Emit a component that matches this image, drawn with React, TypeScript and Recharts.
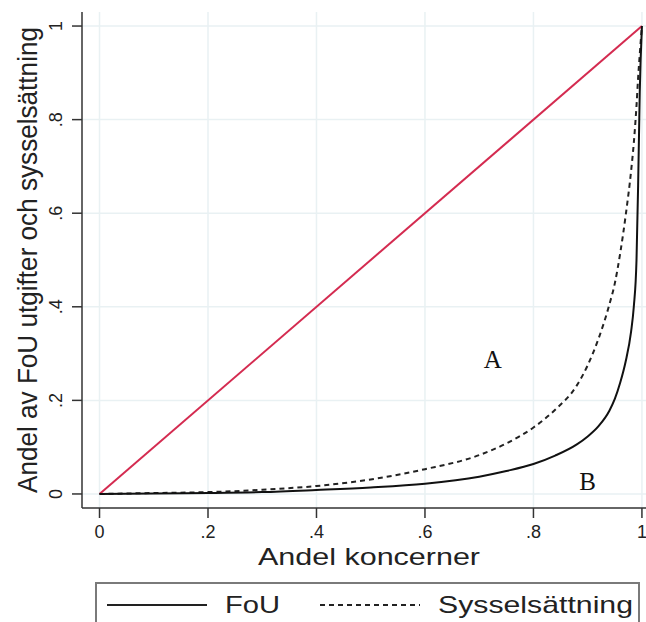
import React from 'react';
import { LineChart, Line, XAxis, YAxis, CartesianGrid, Legend, ReferenceDot } from 'recharts';

// andel koncerner (x) and cumulative shares
const shareX = [0, 0.1, 0.2, 0.3, 0.4, 0.5, 0.6, 0.7, 0.75, 0.8, 0.84, 0.88, 0.9, 0.92, 0.94, 0.95, 0.96, 0.97, 0.98, 0.985, 0.99, 0.993, 0.996, 1];
const fou = [0, 0.001, 0.002, 0.004, 0.0086, 0.014, 0.022, 0.037, 0.049, 0.064, 0.082, 0.106, 0.123, 0.145, 0.178, 0.203, 0.238, 0.283, 0.347, 0.4, 0.5, 0.66, 0.86, 1];
const syss = [0, 0.002, 0.004, 0.009, 0.017, 0.031, 0.053, 0.083, 0.108, 0.142, 0.18, 0.232, 0.275, 0.332, 0.405, 0.45, 0.515, 0.595, 0.69, 0.75, 0.83, 0.89, 0.94, 1];

// line of equality
const eqX = [0, 1];
const eqY = [0, 1];

const ticks = [0, 0.2, 0.4, 0.6, 0.8, 1];
const tickLabels = ['0', '.2', '.4', '.6', '.8', '1'];

const data = shareX.map((x, i) => ({ x, fou: fou[i], syss: syss[i] }));
const eqData = eqX.map((x, i) => ({ x, eq: eqY[i] }));

const fmt = (v: number) => tickLabels[ticks.indexOf(v)] ?? String(v);
const txt = '#222';
const sans = "Arial, 'Liberation Sans', sans-serif";

const YTick = (props: any) => {
  const { y, payload } = props;
  const cx = 56;
  return (
    <text x={cx} y={y} transform={`rotate(-90, ${cx}, ${y})`} textAnchor="middle" dominantBaseline="central"
      fontSize={18} fill={txt} fontFamily={sans}>
      {fmt(payload.value)}
    </text>
  );
};

const XTick = (props: any) => {
  const { x, payload } = props;
  return (
    <text x={x} y={538} textAnchor="middle" fontSize={18} fill={txt} fontFamily={sans}>
      {fmt(payload.value)}
    </text>
  );
};

const LegendBox = () => (
  <div style={{ marginLeft: 95, width: 545, height: 40, border: '2px solid #7a7a7a', borderBottom: 'none', boxSizing: 'border-box' }}>
    <svg width={545} height={40} style={{ display: 'block', marginLeft: -2, marginTop: -2 }}>
      <line x1={12} x2={112} y1={23} y2={23} stroke="#222" strokeWidth={2} />
      <text x={130} y={31} fontSize={24} fill={txt} textLength={55} lengthAdjust="spacingAndGlyphs" fontFamily={sans}>FoU</text>
      <line x1={225} x2={325} y1={23} y2={23} stroke="#222" strokeWidth={2} strokeDasharray="5 4" />
      <text x={343} y={31} fontSize={24} fill={txt} textLength={195} lengthAdjust="spacingAndGlyphs" fontFamily={sans}>Sysselsättning</text>
    </svg>
  </div>
);

const App = () => (
  <div style={{ position: 'absolute', left: 0, top: 0, background: '#fff' }}>
    <LineChart width={646} height={622} data={data} margin={{ top: 12, right: 0, bottom: 0, left: 0 }}>
      <CartesianGrid stroke="#e9f1f3" strokeWidth={1.5} horizontalValues={ticks} verticalValues={ticks} />
      <XAxis
        dataKey="x"
        type="number"
        domain={[-0.0323, 1.0075]}
        allowDataOverflow
        ticks={ticks}
        tickSize={10}
        tick={<XTick />}
        height={74}
        stroke="#333"
        strokeWidth={1.5}
        label={{
          content: () => (
            <text x={369} y={565} textAnchor="middle" fontSize={24} fill={txt} textLength={222} lengthAdjust="spacingAndGlyphs"
              fontFamily={sans}>Andel koncerner</text>
          ),
        }}
      />
      <YAxis
        type="number"
        domain={[-0.03, 1.03]}
        allowDataOverflow
        ticks={ticks}
        tickSize={10}
        tick={<YTick />}
        width={82}
        stroke="#333"
        strokeWidth={1.5}
        label={{
          content: () => (
            <text x={0} y={0} transform="translate(37, 260) rotate(-90)" textAnchor="middle" fontSize={27} fill={txt}
              textLength={466} lengthAdjust="spacingAndGlyphs" fontFamily={sans}>
              Andel av FoU utgifter och sysselsättning
            </text>
          ),
        }}
      />
      <Line data={eqData} dataKey="eq" stroke="#d42b50" strokeWidth={2} dot={false} isAnimationActive={false} legendType="none" />
      <Line dataKey="syss" type="monotone" stroke="#222" strokeWidth={2} strokeDasharray="5 4" dot={false} isAnimationActive={false} />
      <Line dataKey="fou" type="monotone" stroke="#111" strokeWidth={2} dot={false} isAnimationActive={false} />
      <ReferenceDot x={0.725} y={0.289} r={0} fill="none" stroke="none"
        label={{ value: 'A', position: 'center', fontSize: 25, fill: '#111', fontFamily: "'Liberation Serif', 'DejaVu Serif', serif" }} />
      <ReferenceDot x={0.9} y={0.028} r={0} fill="none" stroke="none"
        label={{ value: 'B', position: 'center', fontSize: 25, fill: '#111', fontFamily: "'Liberation Serif', 'DejaVu Serif', serif" }} />
      <Legend verticalAlign="bottom" content={<LegendBox />} />
    </LineChart>
  </div>
);

export default App;
